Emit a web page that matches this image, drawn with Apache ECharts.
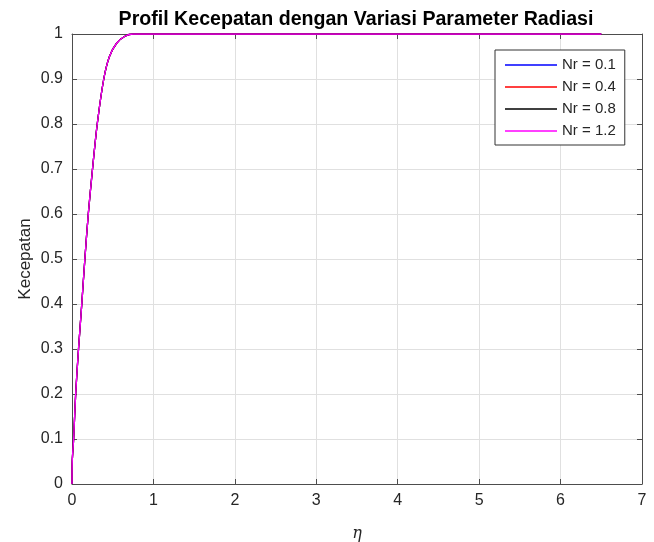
<!DOCTYPE html>
<html>
<head>
<meta charset="utf-8">
<script src="https://cdn.jsdelivr.net/npm/echarts@6/dist/echarts.min.js"></script>
<style>
  html, body { margin: 0; padding: 0; background: #fff; }
  #chart { width: 654px; height: 542px; }
</style>
</head>
<body>
<div id="chart"></div>
<script>
// eta (x) values shared by all curves
const eta = [0, 0.003, 0.02, 0.045, 0.08, 0.12, 0.158, 0.2, 0.252, 0.31, 0.39, 0.46, 0.55, 0.65, 0.75, 6.5];

// velocity profiles: the four curves lie on top of each other in the reference
const velNr01 = [0, 0.05, 0.1, 0.2, 0.3, 0.4, 0.5, 0.6, 0.7, 0.8, 0.9, 0.95, 0.98, 0.995, 1, 1];
const velNr04 = [0, 0.05, 0.1, 0.2, 0.3, 0.4, 0.5, 0.6, 0.7, 0.8, 0.9, 0.95, 0.98, 0.995, 1, 1];
const velNr08 = [0, 0.05, 0.1, 0.2, 0.3, 0.4, 0.5, 0.6, 0.7, 0.8, 0.9, 0.95, 0.98, 0.995, 1, 1];
const velNr12 = [0, 0.05, 0.1, 0.2, 0.3, 0.4, 0.5, 0.6, 0.7, 0.8, 0.9, 0.95, 0.98, 0.995, 1, 1];

const seriesNames = ["Nr = 0.1", "Nr = 0.4", "Nr = 0.8", "Nr = 1.2"];
const seriesColors = ["#0000ff", "#ff0000", "#000000", "#ff00ff"];
const seriesValues = [velNr01, velNr04, velNr08, velNr12];

const FONT = "Liberation Sans, Arial, sans-serif";
const AXIS_COLOR = "#4d4d4d";
const LABEL_COLOR = "#262626";

const chart = echarts.init(document.getElementById("chart"));

const pairs = ys => eta.map((x, i) => [x, ys[i]]);

const baseX = {
  type: "value", min: 0, max: 7, interval: 1,
  axisLine: { show: true, onZero: false, lineStyle: { color: AXIS_COLOR, width: 1 } },
  axisTick: { show: true, inside: true, length: 5, lineStyle: { color: AXIS_COLOR } }
};
const baseY = {
  type: "value", min: 0, max: 1, interval: 0.1,
  axisLine: { show: true, onZero: false, lineStyle: { color: AXIS_COLOR, width: 1 } },
  axisTick: { show: true, inside: true, length: 5, lineStyle: { color: AXIS_COLOR } }
};

chart.setOption({
  animation: false,
  backgroundColor: "#fff",
  title: {
    text: "Profil Kecepatan dengan Variasi Parameter Radiasi",
    left: 351, top: 5, textAlign: "center",
    textStyle: { fontFamily: FONT, fontSize: 19.6, fontWeight: "bold", color: "#000" }
  },
  grid: { left: 72, right: 12, top: 34, bottom: 58, outerBoundsMode: "none" },
  legend: {
    orient: "vertical",
    left: 495, top: 50,
    padding: [6, 9, 5, 10],
    itemGap: 4,
    itemWidth: 52, itemHeight: 18,
    icon: "path://M0,6 L52,6 L52,7.5 L0,7.5 Z",
    borderColor: "#333", borderWidth: 1,
    backgroundColor: "#fff",
    data: seriesNames,
    textStyle: { fontFamily: FONT, fontSize: 15, lineHeight: 18, color: LABEL_COLOR }
  },
  xAxis: [
    Object.assign({}, baseX, {
      position: "bottom",
      name: "η", nameLocation: "middle", nameGap: 42,
      nameTextStyle: { fontFamily: "DejaVu Serif, serif", fontStyle: "italic", fontSize: 16, color: LABEL_COLOR },
      axisLabel: { fontFamily: FONT, fontSize: 16, color: LABEL_COLOR, margin: 9 },
      splitLine: { show: true, lineStyle: { color: "#e0e0e0", width: 1 } }
    }),
    Object.assign({}, baseX, {
      position: "top",
      axisLabel: { show: false },
      splitLine: { show: false }
    })
  ],
  yAxis: [
    Object.assign({}, baseY, {
      position: "left",
      name: "Kecepatan", nameLocation: "middle", nameGap: 38, nameMoveOverlap: false,
      nameTextStyle: { fontFamily: FONT, fontSize: 17, color: LABEL_COLOR },
      axisLabel: { fontFamily: FONT, fontSize: 16, color: LABEL_COLOR, margin: 9,
        formatter: v => String(Math.round(v * 10) / 10) },
      splitLine: { show: true, lineStyle: { color: "#e0e0e0", width: 1 } }
    }),
    Object.assign({}, baseY, {
      position: "right",
      axisLabel: { show: false },
      splitLine: { show: false }
    })
  ],
  series: seriesNames.map((name, i) => ({
    name,
    type: "line",
    xAxisIndex: 0, yAxisIndex: 0,
    data: pairs(seriesValues[i]),
    smooth: 0.3,
    symbol: "none",
    color: seriesColors[i],
    lineStyle: { color: seriesColors[i], width: 1.3 },
    z: 2 + i
  }))
});
</script>
</body>
</html>
